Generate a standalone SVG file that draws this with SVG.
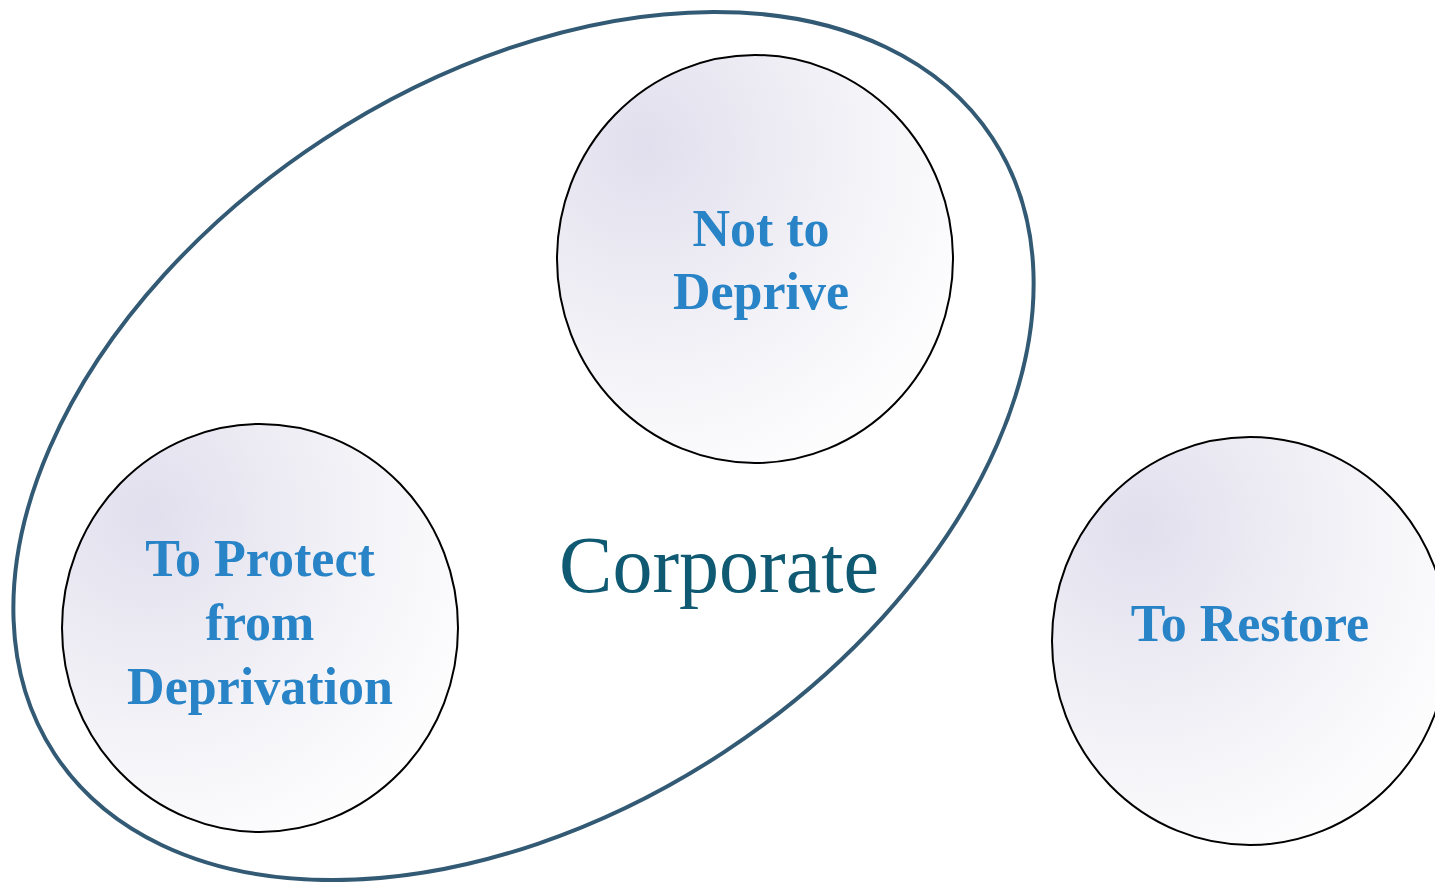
<svg xmlns="http://www.w3.org/2000/svg" width="1435" height="882" viewBox="0 0 1435 882">
<defs>
<radialGradient id="g" cx="0.22" cy="0.22" r="0.95" fx="0.22" fy="0.22">
<stop offset="0" stop-color="#e1dfed"/>
<stop offset="0.55" stop-color="#f3f2f7"/>
<stop offset="1" stop-color="#ffffff"/>
</radialGradient>
<style>
.c{fill:url(#g);stroke:#000;stroke-width:2}
.t{font-family:"Liberation Serif","Times New Roman",serif;font-weight:bold;font-size:52px;fill:#2884c7;text-anchor:middle}
.corp{font-family:"Liberation Serif","Times New Roman",serif;font-size:80px;fill:#0f5a72;text-anchor:middle}
</style>
</defs>
<rect width="1435" height="882" fill="#fff"/>
<g id="corporate">
<ellipse cx="523.5" cy="446" rx="561" ry="366" transform="rotate(-33.3 523.5 446)" fill="none" stroke="#335a74" stroke-width="4"/>
<text class="corp" x="719" y="592">Corporate</text>
</g>
<g id="not-to-deprive">
<ellipse class="c" cx="755" cy="259" rx="198" ry="204"/>
<text class="t" x="761" y="246">Not to</text>
<text class="t" x="761" y="309">Deprive</text>
</g>
<g id="to-protect">
<ellipse class="c" cx="260" cy="628" rx="198" ry="204"/>
<text class="t" x="260" y="576">To Protect</text>
<text class="t" x="260" y="640">from</text>
<text class="t" x="260" y="704">Deprivation</text>
</g>
<g id="to-restore">
<ellipse class="c" cx="1250" cy="641" rx="198" ry="204"/>
<text class="t" x="1250" y="641">To Restore</text>
</g>
<g id="connectors"/>
</svg>
